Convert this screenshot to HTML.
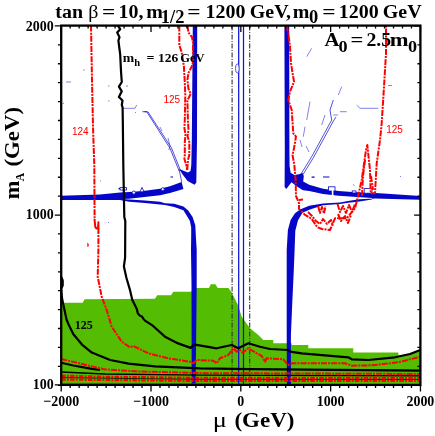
<!DOCTYPE html>
<html><head><meta charset="utf-8"><title>chart</title>
<style>html,body{margin:0;padding:0;background:#fff;}svg{display:block;will-change:transform;}text{font-family:"Liberation Serif",serif;font-weight:bold;fill:#000;}.s{font-family:"Liberation Sans",sans-serif;font-weight:normal;fill:#f00;font-size:10px;}.r{fill:none;stroke:#f00;stroke-width:2;stroke-dasharray:6 1.1 2 1.1;stroke-linejoin:round;}.k{fill:none;stroke:#000;stroke-width:2.2;stroke-linejoin:round;}.b{fill:none;stroke:#0606c8;stroke-linejoin:round;}.g{fill:none;stroke:#333;stroke-width:1.1;stroke-dasharray:5 1.5 1 1.5;}</style></head><body>
<svg width="435" height="436" viewBox="0 0 435 436">
<rect x="0" y="0" width="435" height="436" fill="#fff"/>
<path d="M61.2 302.8 L82.8 302.8 L84.5 299.3 L155.0 298.7 L157.2 295.3 L171.0 295.3 L173.3 291.8 L190.6 291.8 L196.3 288.0 L209.0 288.0 L210.8 284.3 L215.4 284.3 L217.7 288.0 L228.5 288.0 L232.0 293.0 L237.7 304.5 L241.7 316.7 L250.0 328.3 L258.3 335.0 L263.3 340.0 L273.3 340.0 L273.3 343.3 L291.7 343.3 L291.7 345.0 L308.3 345.0 L308.3 348.3 L353.3 348.3 L353.3 352.5 L398.2 352.5 L398.5 355.8 L410.0 354.0 L420.4 351.3 L420.4 384.9 L61.2 384.9 Z" fill="#54bc02"/>
<line class="g" x1="232.1" y1="25.6" x2="232.1" y2="384.9"/>
<line class="g" x1="249.7" y1="25.6" x2="249.7" y2="384.9"/>
<line x1="238.7" y1="25.6" x2="238.7" y2="384.9" stroke="#1010d8" stroke-width="1.25"/>
<line x1="243.5" y1="25.6" x2="243.5" y2="384.9" stroke="#1010d8" stroke-width="1.25"/>
<ellipse cx="237.3" cy="68.5" rx="1.8" ry="4.5" fill="#fff" stroke="#1414dc" stroke-width="0.7"/>
<path d="M192.8 25.6 L197.2 25.6 L197.0 140.0 L196.3 182.5 L194.5 184.8 L187.6 181.1 L183.0 175.0 L178.9 168.7 L184.0 171.0 L188.0 172.6 L190.5 171.0 L191.3 165.0 L191.8 140.0 Z" fill="#0606c8"/>
<path d="M61.2 195.8 L100.0 194.6 L120.0 192.6 L133.8 191.7 L147.0 190.6 L160.0 188.8 L170.0 186.3 L181.6 182.0 L183.4 188.9 L170.0 192.9 L160.0 195.3 L140.0 197.4 L129.0 198.7 L122.0 199.0 L129.2 199.4 L145.0 200.4 L160.0 201.7 L165.0 203.3 L174.2 203.7 L183.4 206.5 L188.0 210.2 L192.6 217.1 L195.3 225.3 L195.8 235.0 L196.7 250.0 L196.7 285.0 L195.7 380.0 L195.7 384.9 L191.7 384.9 L191.5 285.0 L191.0 250.0 L191.2 235.0 L191.2 227.2 L189.8 220.7 L187.1 216.2 L183.4 210.2 L174.2 207.0 L165.0 204.9 L160.0 204.4 L145.0 203.0 L129.2 201.7 L120.0 199.9 L100.0 199.9 L61.2 200.0 Z" fill="#0606c8"/>
<path class="b" stroke-width="0.7" d="M181.8 182.3 L179.2 170"/>
<path d="M284.4 25.6 L289.2 25.6 L289.4 150.0 L289.6 166.0 L290.6 172.8 L294.4 175.0 L299.0 174.3 L302.6 173.0 L303.8 176.0 L303.2 181.6 L309.2 184.7 L323.0 188.8 L338.6 191.1 L352.0 192.0 L375.0 193.0 L383.5 193.6 L420.4 196.0 L420.4 199.7 L383.5 198.7 L375.0 198.4 L359.5 199.3 L348.0 201.0 L340.0 202.6 L323.0 203.5 L309.2 205.8 L300.0 209.5 L295.0 213.3 L290.6 219.9 L287.9 230.0 L286.7 250.0 L286.7 330.0 L286.9 384.9 L290.9 384.9 L290.9 335.0 L292.4 300.0 L293.8 270.0 L294.6 250.0 L295.3 230.7 L298.0 220.2 L302.5 212.8 L310.0 209.4 L323.0 205.2 L340.0 204.0 L348.0 202.8 L359.5 201.4 L372.0 199.4 L372.0 198.1 L338.6 195.7 L323.0 193.9 L309.2 191.1 L303.0 190.3 L297.0 186.5 L291.5 182.2 L286.3 189.1 L284.6 187.0 L284.8 150.0 Z" fill="#0606c8"/>
<path class="b" stroke-width="1.2" d="M311.6 177.2 L314.6 177.2 M323 177 L329.4 177 M170.5 177 L173 177 M118.5 188.7 L126 188.7"/>
<path class="b" stroke-width="0.7" d="M142.3 111.7 L146.7 111.7 L170 148.3 L179.2 171 M144.3 111.7 L148 111.9 L171.5 148 L180.6 170.8 M311.7 156.7 L331.7 120 L330 110 L333.3 100 M313.5 157.5 L333.4 121 L336 117 M301 174 L311.7 156.7 M303 174.5 L313.5 157.5"/>
<rect x="328.4" y="186.8" width="6.6" height="4.2" fill="#fff" stroke="#0606c8" stroke-width="0.8"/>
<rect x="331.8" y="190" width="1.6" height="6" fill="#fff"/>
<rect x="352.2" y="190.9" width="3.8" height="2.1" fill="#fff" stroke="#0606c8" stroke-width="0.8"/>
<rect x="364.2" y="188.6" width="7.8" height="4.6" fill="#fff" stroke="#0606c8" stroke-width="0.8"/>
<rect x="120.0" y="187.6" width="6.4" height="2.4" fill="#fff" stroke="#0606c8" stroke-width="0.8"/>
<circle cx="133.8" cy="192.6" r="1.6" fill="#fff" stroke="#0606c8" stroke-width="0.8"/>
<circle cx="162.8" cy="189.2" r="1.5" fill="#fff" stroke="#0606c8" stroke-width="0.8"/>
<path d="M140 192 L142 187.4 L144 191.6 Z" fill="#fff" stroke="#0606c8" stroke-width="0.8"/>
<path class="b" stroke-width="0.5" d="M123.3 108.3 L135 108.3 L136.7 105 M160 127 L162 131 M168 138 L170 146 L168.8 150 M356.7 105 L360 108.3 L378.3 108.3 M340 111.7 L346.7 111.7 M333.3 115 L338 115 M311.7 48.3 L306.7 56.7 M341.7 86.7 L338.3 95 M310 101.7 L306.7 120 M325 115 L321.7 125 M305 126.7 L303.3 136.7 M300 140 L302 147 M306 146 L309 152 M388 85.5 L392 85.5 M66 82 L71 82 M83 70 L84.5 70 M108 86 L109.5 86 M126 86 L128 86 M108 101 L109.5 101 M62.5 103.3 L64 103.3 M135 112.5 L136 112.5 M100 181 L101 181 M108 222.5 L109 222.5 M353 184.5 L354.5 185.5 M400 176.5 L401 176.5"/>
<path class="r" d="M91.0 25.6 L92.0 80.0 L93.1 130.0 L94.3 165.0 L94.6 219.4"/>
<path class="r" d="M98.4 228.0 L98.4 250.0 L97.7 276.7 L101.7 296.7 L106.7 310.0 L111.7 326.7 L121.7 341.7 L130.0 347.3 L133.3 346.0 L148.3 353.3 L168.3 358.3 L190.0 361.7 L193.3 363.3 L196.7 360.0 L213.3 360.7 L216.7 363.3 L220.0 358.3 L228.3 355.0 L233.3 348.3 L236.7 351.7 L240.0 350.0 L242.7 352.7 L248.3 348.3 L256.7 353.3 L261.7 356.0 L265.0 361.7 L266.7 358.3 L283.3 359.3 L288.3 365.0 L291.7 363.3 L345.0 363.3 L351.7 365.7 L371.7 365.3 L398.3 362.3 L420.4 356.7"/>
<path class="r" d="M179.3 25.6 L179.3 45.0 L181.6 52.0 L183.9 66.0 L185.0 87.0 L185.3 96.0 L184.8 120.0 L184.4 128.0 L185.5 135.0 L184.8 142.0 L184.8 155.0 L184.4 159.0 L186.0 164.0 L187.2 170.0"/>
<path class="r" d="M187.4 25.6 L188.5 32.6 L192.0 37.2 L193.0 43.0 L193.0 62.0 L192.0 66.0 L188.5 72.9 L187.4 79.8 L188.5 89.0 L190.8 93.6 L187.4 100.5 L187.9 120.0 L188.5 130.0 L187.5 136.0 L189.3 142.0 L189.3 155.0 L188.0 160.0 L187.2 170.0"/>
<path class="r" d="M286.7 25.6 L288.3 33.3 L290.0 46.7 L291.0 63.3 L294.0 81.7 L290.0 91.7 L288.3 100.0 L291.7 110.0 L293.3 133.3 L296.0 136.7 L294.0 148.3 L292.5 155.0 L294.3 164.7 L295.6 179.4 L296.0 196.0 L299.0 203.3 L299.0 208.8 L304.4 214.3 L311.8 219.0 L317.3 227.2 L322.0 229.0 L330.0 230.0 L335.0 218.3 L346.7 218.3 L355.0 208.3 L358.3 195.0 L361.7 180.0 L366.0 150.0 L367.3 145.0 L370.0 170.0 L370.7 193.3 L375.0 193.0 L376.7 163.3 L380.0 140.0 L381.7 123.3 L384.0 86.7 L386.0 53.3 L386.0 25.6"/>
<path class="r" d="M318 206 L320 213 L322 207 L324 213.4 L325.5 206 M308 212 L312 216 L316 221 L320 224 L323 219 L327 224 L331 220 L333 226 M337.5 204 L340 212 L343 206 L346 213 L349 205 L352 212 L355 204 M338 214 L341 221 L345 216 L348 223 L351 215 M362 196 L363 176 L365 160 M371 176 L373 190 M299 200 L303 199.6"/>
<path d="M87.2 242.5 L88.8 244.2 L88.6 246.5 L87.4 247 Z" fill="#f00"/>
<path class="r" style="stroke-dasharray:none" d="M94.5 219 L95.3 227 L96.6 228.6 L98 228 L98.4 222.2 L98.4 229"/>
<path class="k" d="M117.9 25.6 L120.2 29.2 L117.2 32.6 L119.5 37.2 L118.4 40.7 L120.2 54.5 L121.1 72.9 L121.8 82.0 L118.9 86.7 L121.8 91.3 L118.9 97.0 L122.5 100.5 L121.8 105.0 L122.6 107.4 L122.8 120.0 L123.3 165.0 L124.3 217.0 L125.3 221.0 L125.1 257.6 L123.9 266.4 L126.4 277.8 L130.1 290.4 L132.3 300.0 L134.6 304.6 L136.9 309.2 L137.8 313.3 L139.7 315.6 L142.0 316.6 L143.3 318.6 L145.0 320.6 L152.8 325.7 L165.5 337.1 L178.1 343.4 L190.7 347.9 L193.2 345.4 L195.0 344.6 L216.7 348.3 L231.7 345.0 L238.3 348.3 L248.3 343.3 L260.0 346.7 L270.0 349.0 L288.3 350.0 L290.0 351.7 L301.7 353.3 L348.3 357.3 L351.7 359.3 L368.3 360.0 L395.0 357.3 L410.0 354.0 L420.4 350.0"/>
<path class="k" d="M61.2 277.0 L62.7 280.5 L62.7 285.5 L61.2 288.5 L61.8 297.0 L63.0 302.9 L66.5 319.5 L68.8 325.0 L73.4 334.2 L82.6 345.2 L91.8 352.6 L110.2 360.0 L128.6 363.6 L155.0 366.3 L200.0 368.4 L250.0 369.2 L420.4 370.6"/>
<path class="k" d="M61.2 362.7 L73.4 365.5 L91.8 368.8 L100 370"/>
<path class="r" d="M61.2 359 L73.4 361.9 L91.8 366.4 L105 369.4 L135 371.3 L200 373.1 L420.4 374"/>
<path class="k" style="stroke-width:1.3" d="M61.2 372 L105 374 L200 375.2 L420.4 375.8"/>
<path class="r" style="stroke-width:2.3;stroke-dasharray:4.5 1.3 1.8 1.3" d="M61.2 375.8 L105 376.8 L200 377.9 L420.4 378"/>
<path class="k" style="stroke-width:0.8" d="M61.2 377.7 L200 379.4 L420.4 379.5"/>
<path class="r" style="stroke-width:2.3;stroke-dasharray:4.5 1.3 1.8 1.3" d="M61.2 379.5 L200 380.9 L420.4 380.9"/>
<path d="M61.2 383.4 L230 383.4" stroke="#b04000" stroke-width="0.8"/>
<rect x="61.2" y="25.6" width="359.2" height="359.3" fill="none" stroke="#000" stroke-width="2.3"/>
<path d="M61.20 25.6 v6.3 M61.20 384.9 v6.5 M70.18 25.6 v3.0 M70.18 384.9 v3.0 M79.16 25.6 v3.0 M79.16 384.9 v3.0 M88.14 25.6 v3.0 M88.14 384.9 v3.0 M97.12 25.6 v3.0 M97.12 384.9 v3.0 M106.11 25.6 v3.0 M106.11 384.9 v3.0 M115.09 25.6 v3.0 M115.09 384.9 v3.0 M124.07 25.6 v3.0 M124.07 384.9 v3.0 M133.05 25.6 v3.0 M133.05 384.9 v3.0 M142.03 25.6 v3.0 M142.03 384.9 v3.0 M151.01 25.6 v6.3 M151.01 384.9 v6.5 M159.99 25.6 v3.0 M159.99 384.9 v3.0 M168.98 25.6 v3.0 M168.98 384.9 v3.0 M177.96 25.6 v3.0 M177.96 384.9 v3.0 M186.94 25.6 v3.0 M186.94 384.9 v3.0 M195.92 25.6 v3.0 M195.92 384.9 v3.0 M204.90 25.6 v3.0 M204.90 384.9 v3.0 M213.88 25.6 v3.0 M213.88 384.9 v3.0 M222.86 25.6 v3.0 M222.86 384.9 v3.0 M231.84 25.6 v3.0 M231.84 384.9 v3.0 M240.82 25.6 v6.3 M240.82 384.9 v6.5 M249.81 25.6 v3.0 M249.81 384.9 v3.0 M258.79 25.6 v3.0 M258.79 384.9 v3.0 M267.77 25.6 v3.0 M267.77 384.9 v3.0 M276.75 25.6 v3.0 M276.75 384.9 v3.0 M285.73 25.6 v3.0 M285.73 384.9 v3.0 M294.71 25.6 v3.0 M294.71 384.9 v3.0 M303.69 25.6 v3.0 M303.69 384.9 v3.0 M312.68 25.6 v3.0 M312.68 384.9 v3.0 M321.66 25.6 v3.0 M321.66 384.9 v3.0 M330.64 25.6 v6.3 M330.64 384.9 v6.5 M339.62 25.6 v3.0 M339.62 384.9 v3.0 M348.60 25.6 v3.0 M348.60 384.9 v3.0 M357.58 25.6 v3.0 M357.58 384.9 v3.0 M366.56 25.6 v3.0 M366.56 384.9 v3.0 M375.54 25.6 v3.0 M375.54 384.9 v3.0 M384.52 25.6 v3.0 M384.52 384.9 v3.0 M393.51 25.6 v3.0 M393.51 384.9 v3.0 M402.49 25.6 v3.0 M402.49 384.9 v3.0 M411.47 25.6 v3.0 M411.47 384.9 v3.0 M420.45 25.6 v6.3 M420.45 384.9 v6.5 M61.2 385.25 h-3.3 M420.4 385.25 h-3.0 M61.2 366.34 h-3.3 M420.4 366.34 h-3.0 M61.2 347.43 h-3.3 M420.4 347.43 h-3.0 M61.2 328.52 h-3.3 M420.4 328.52 h-3.0 M61.2 309.61 h-3.3 M420.4 309.61 h-3.0 M61.2 290.70 h-3.3 M420.4 290.70 h-3.0 M61.2 271.79 h-3.3 M420.4 271.79 h-3.0 M61.2 252.88 h-3.3 M420.4 252.88 h-3.0 M61.2 233.97 h-3.3 M420.4 233.97 h-3.0 M61.2 215.06 h-6.4 M420.4 215.06 h-6.3 M61.2 196.14 h-3.3 M420.4 196.14 h-3.0 M61.2 177.23 h-3.3 M420.4 177.23 h-3.0 M61.2 158.32 h-3.3 M420.4 158.32 h-3.0 M61.2 139.41 h-3.3 M420.4 139.41 h-3.0 M61.2 120.50 h-3.3 M420.4 120.50 h-3.0 M61.2 101.59 h-3.3 M420.4 101.59 h-3.0 M61.2 82.68 h-3.3 M420.4 82.68 h-3.0 M61.2 63.77 h-3.3 M420.4 63.77 h-3.0 M61.2 44.86 h-3.3 M420.4 44.86 h-3.0 M61.2 25.95 h-6.4 M420.4 25.95 h-6.3 M61.2 384.85 h-6.4" stroke="#000" stroke-width="1.3" fill="none"/>
<text transform="translate(55.3,17.8) scale(1.040,1)" font-size="19.2">tan</text>
<text transform="translate(88.2,17.8) scale(1.040,1)" font-size="19.2" style="font-weight:normal">β</text>
<text transform="translate(102.1,17.8) scale(1.220,1)" font-size="19.2">=</text>
<text transform="translate(118.6,17.8) scale(1.040,1)" font-size="19.2">10,</text>
<text transform="translate(146.3,17.8) scale(1.040,1)" font-size="19.2">m</text>
<text transform="translate(160.8,23.3) scale(1.040,1)" font-size="17.8">1/2</text>
<text transform="translate(187.3,17.8) scale(1.220,1)" font-size="19.2">=</text>
<text transform="translate(205.6,17.8) scale(1.040,1)" font-size="19.2">1200</text>
<text transform="translate(249.8,17.8) scale(1.040,1)" font-size="19.2">GeV,</text>
<text transform="translate(292.7,17.8) scale(1.040,1)" font-size="19.2">m</text>
<text transform="translate(308.9,23.3) scale(1.040,1)" font-size="17.8">0</text>
<text transform="translate(322.3,17.8) scale(1.220,1)" font-size="19.2">=</text>
<text transform="translate(338.7,17.8) scale(1.040,1)" font-size="19.2">1200</text>
<text transform="translate(382.8,17.8) scale(1.040,1)" font-size="19.2">GeV</text>
<text transform="translate(324.6,45.9) scale(1.100,1)" font-size="18.8">A</text>
<text transform="translate(338.4,51.5) scale(1.040,1)" font-size="17.5">0</text>
<text transform="translate(350.4,45.9) scale(1.200,1)" font-size="18.8">=</text>
<text transform="translate(366.5,45.9) scale(1.050,1)" font-size="18.8">2.5</text>
<text transform="translate(389.8,45.9) scale(1.200,1)" font-size="18.8">m</text>
<text transform="translate(408.0,51.5) scale(1.040,1)" font-size="17.5">0</text>
<text transform="translate(122.8,61.6) scale(1.100,1)" font-size="12.5">m</text>
<text transform="translate(134.3,66.1) scale(1.000,1)" font-size="10.5">h</text>
<text transform="translate(146.5,61.6) scale(1.120,1)" font-size="12.5">=</text>
<text transform="translate(157.9,61.6) scale(1.080,1)" font-size="12.5">126</text>
<text transform="translate(180.3,61.6) scale(1.000,1)" font-size="12.5">GeV</text>
<text x="74.8" y="329.2" font-size="12">125</text>
<text class="s" x="72.0" y="135.4">124</text>
<text class="s" x="163.5" y="102.5">125</text>
<text class="s" x="386.2" y="133.4">125</text>
<text transform="translate(53.6,30.6) scale(0.93,1)" font-size="15" text-anchor="end">2000</text>
<text transform="translate(53.6,219.2) scale(0.93,1)" font-size="15" text-anchor="end">1000</text>
<text transform="translate(53.6,389.4) scale(0.93,1)" font-size="15" text-anchor="end">100</text>
<text transform="translate(61.2,405.8) scale(0.93,1)" font-size="15" text-anchor="middle">−2000</text>
<text transform="translate(151.0,405.8) scale(0.93,1)" font-size="15" text-anchor="middle">−1000</text>
<text transform="translate(240.8,405.8) scale(0.93,1)" font-size="15" text-anchor="middle">0</text>
<text transform="translate(330.6,405.8) scale(0.93,1)" font-size="15" text-anchor="middle">1000</text>
<text transform="translate(420.4,405.8) scale(0.93,1)" font-size="15" text-anchor="middle">2000</text>
<text transform="translate(212.8,426.5) scale(1.200,1)" font-size="22" style="font-weight:normal">μ</text>
<text transform="translate(234.4,426.5) scale(1.045,1)" font-size="22">(GeV)</text>
<g transform="translate(18.6,199.2) rotate(-90)">
<text transform="translate(0.0,0.0) scale(1.020,1)" font-size="22">m</text>
<text transform="translate(18.0,5.4) scale(1.000,1)" font-size="11.5">A</text>
<text transform="translate(32.6,0.0) scale(1.040,1)" font-size="22">(GeV)</text>
</g>
</svg></body></html>
